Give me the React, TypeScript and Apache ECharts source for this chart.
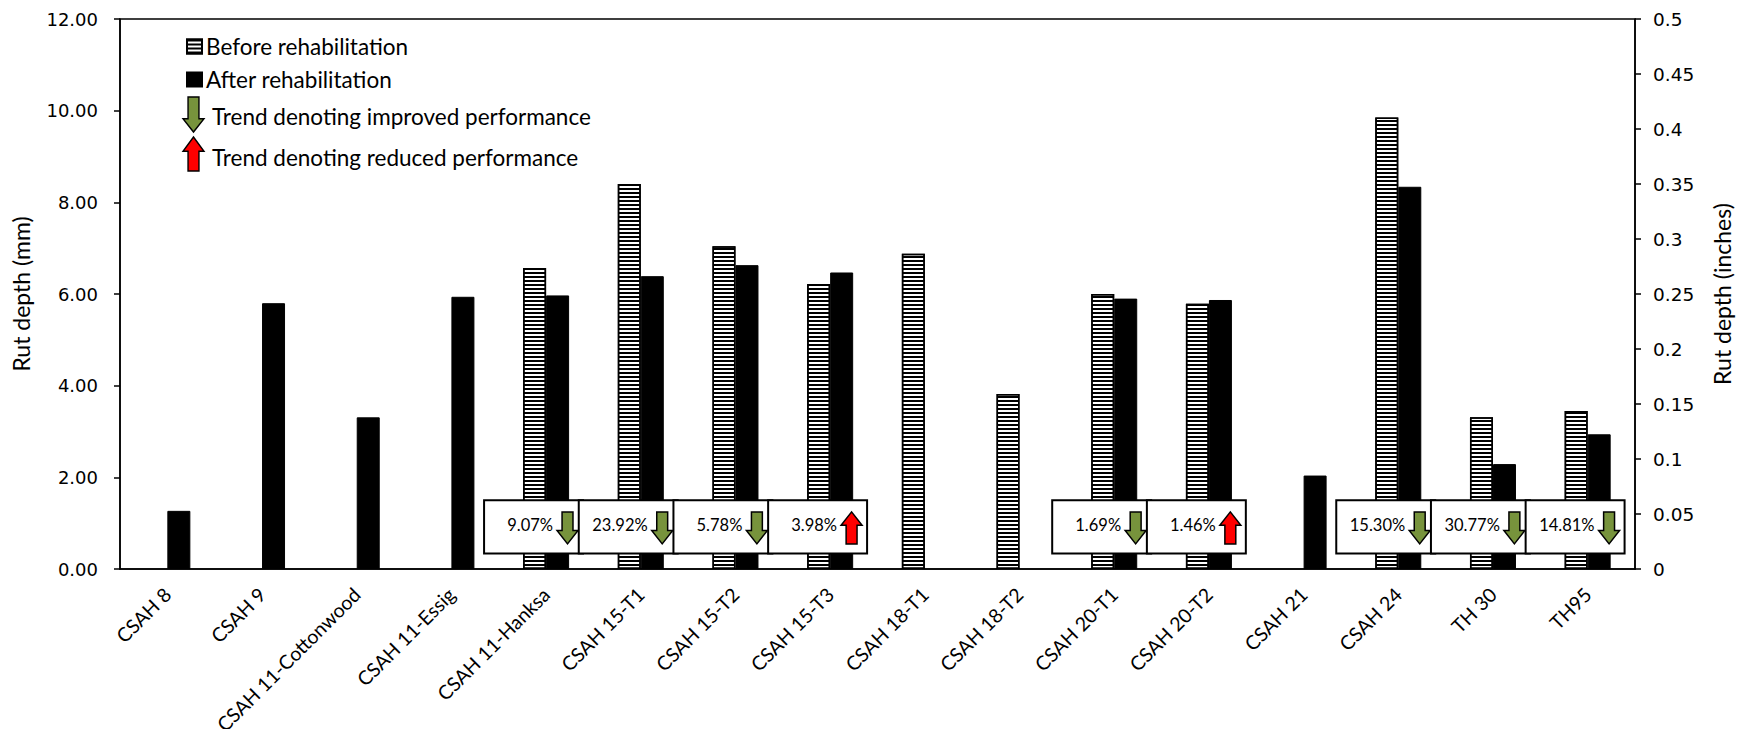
import React, { useEffect, useRef } from "react";
import * as echarts from "echarts";

// Sections along the x axis
const categories = [
  "CSAH 8",
  "CSAH 9",
  "CSAH 11-Cottonwood",
  "CSAH 11-Essig",
  "CSAH 11-Hanksa",
  "CSAH 15-T1",
  "CSAH 15-T2",
  "CSAH 15-T3",
  "CSAH 18-T1",
  "CSAH 18-T2",
  "CSAH 20-T1",
  "CSAH 20-T2",
  "CSAH 21",
  "CSAH 24",
  "TH 30",
  "TH95",
];

// Rut depth (mm) before and after rehabilitation; null = not measured
const beforeRut = [null, null, null, null, 6.57, 8.4, 7.04, 6.22, 6.88, 3.82, 6.0, 5.79, null, 9.85, 3.31, 3.45];
const afterRut = [1.27, 5.8, 3.31, 5.94, 5.97, 6.39, 6.63, 6.47, null, null, 5.9, 5.87, 2.04, 8.34, 2.29, 2.94];

// Change in rut depth for sections measured both times
const changeSections = [
  "CSAH 11-Hanksa",
  "CSAH 15-T1",
  "CSAH 15-T2",
  "CSAH 15-T3",
  "CSAH 20-T1",
  "CSAH 20-T2",
  "CSAH 24",
  "TH 30",
  "TH95",
];
const changePct = [9.07, 23.92, 5.78, 3.98, 1.69, 1.46, 15.3, 30.77, 14.81];
const changeTrend = ["down", "down", "down", "up", "down", "up", "down", "down", "down"];

// Axis ranges
const mmMax = 12;
const mmStep = 2;
const inchMax = 0.5;
const inchStep = 0.05;

const GREEN = "#77933C";
const RED = "#FF0000";
const TEXT_FONT = "Lato, 'Open Sans', sans-serif";
const TICK_FONT = "'DejaVu Sans', Verdana, sans-serif";

// Block arrow outline inside box (x, y, w, h)
function arrowPoints(x: number, y: number, w: number, h: number, up: boolean, headFrac: number) {
  const cx = x + w / 2;
  const s = w * 0.26;
  if (!up) {
    const hy = y + h * headFrac;
    return [
      [cx - s, y],
      [cx + s, y],
      [cx + s, hy],
      [x + w, hy],
      [cx, y + h],
      [x, hy],
      [cx - s, hy],
    ];
  }
  const hy = y + h * (1 - headFrac);
  return [
    [cx, y],
    [x + w, hy],
    [cx + s, hy],
    [cx + s, y + h],
    [cx - s, y + h],
    [cx - s, hy],
    [x, hy],
  ];
}

export default function App() {
  const ref = useRef<HTMLDivElement>(null);

  useEffect(() => {
    if (!ref.current) return;
    const chart = echarts.init(ref.current, undefined, { renderer: "svg" });

    const changeData = changeSections.map((c, i) => [
      categories.indexOf(c),
      0,
      changePct[i],
      changeTrend[i] === "up" ? 1 : 0,
    ]);

    const option: any = {
      animation: false,
      backgroundColor: "#fff",
      grid: {
        left: 120,
        right: 121,
        top: 19,
        bottom: 165,
        show: true,
        borderColor: "#000",
        borderWidth: 1.5,
        backgroundColor: "transparent",
      },
      legend: {
        orient: "vertical",
        left: 186,
        top: 35,
        padding: 0,
        itemWidth: 15,
        itemHeight: 14,
        itemGap: 10,
        icon: "rect",
        data: ["Before rehabilitation", "After rehabilitation"],
        textStyle: {
          fontFamily: TEXT_FONT,
          fontSize: 22.5,
          lineHeight: 22,
          color: "#000",
          padding: [0, 0, 0, -1],
        },
      },
      xAxis: {
        type: "category",
        data: categories,
        axisTick: { show: false },
        axisLine: { lineStyle: { color: "#000", width: 1.5 } },
        axisLabel: {
          interval: 0,
          rotate: 45,
          margin: 22,
          color: "#000",
          fontFamily: TEXT_FONT,
          fontSize: 19.5,
        },
      },
      yAxis: [
        {
          type: "value",
          min: 0,
          max: mmMax,
          interval: mmStep,
          name: "Rut depth (mm)",
          nameLocation: "middle",
          nameRotate: 90,
          nameGap: 88,
          nameTextStyle: { fontFamily: TEXT_FONT, fontSize: 23, color: "#000" },
          axisLine: { show: true, lineStyle: { color: "#000", width: 1.5 } },
          axisTick: { show: true, length: 6, lineStyle: { color: "#000", width: 1.5 } },
          splitLine: { show: false },
          axisLabel: {
            margin: 22,
            color: "#000",
            fontFamily: TICK_FONT,
            fontSize: 18,
            formatter: (v: number) => v.toFixed(2),
          },
        },
        {
          type: "value",
          position: "right",
          min: 0,
          max: inchMax,
          interval: inchStep,
          name: "Rut depth (inches)",
          nameLocation: "middle",
          nameRotate: 90,
          nameGap: 75,
          nameTextStyle: { fontFamily: TEXT_FONT, fontSize: 23, color: "#000" },
          axisLine: { show: true, lineStyle: { color: "#000", width: 1.5 } },
          axisTick: { show: true, length: 6, lineStyle: { color: "#000", width: 1.5 } },
          splitLine: { show: false },
          axisLabel: {
            margin: 18,
            color: "#000",
            fontFamily: TICK_FONT,
            fontSize: 18.5,
            formatter: (v: number) => String(Math.round(v * 100) / 100),
          },
        },
      ],
      series: [
        {
          name: "Before rehabilitation",
          type: "bar",
          data: beforeRut,
          barWidth: 23,
          barGap: "0%",
          itemStyle: {
            color: "#fff",
            borderColor: "#000",
            borderWidth: 1.5,
            decal: {
              symbol: "rect",
              symbolSize: 1,
              dashArrayX: [1, 0],
              dashArrayY: [2, 1.7],
              color: "#000",
              rotation: 0,
            },
          },
        },
        {
          name: "After rehabilitation",
          type: "bar",
          data: afterRut,
          barWidth: 23,
          barGap: "0%",
          itemStyle: { color: "#000", borderColor: "#000", borderWidth: 1 },
        },
        {
          name: "change",
          type: "custom",
          z: 10,
          encode: { x: 0, y: 1 },
          data: changeData,
          renderItem: (_params: any, api: any) => {
            const cat = api.value(0);
            const pct = api.value(2);
            const up = api.value(3) === 1;
            const cx = api.coord([cat, 0])[0];
            const band = api.size([1, 0])[0];
            const left = cx - band * 0.655;
            const right = cx + band * 0.39;
            const top = api.coord([cat, 1.5])[1];
            const bottom = api.coord([cat, 0.34])[1];
            const midY = (top + bottom) / 2;
            const aw = 21;
            const ah = 32;
            const ax = right - aw - 5;
            const ay = midY - ah / 2 + 1;
            return {
              type: "group",
              children: [
                {
                  type: "rect",
                  shape: { x: left, y: top, width: right - left, height: bottom - top },
                  style: { fill: "#fff", stroke: "#000", lineWidth: 2 },
                },
                {
                  type: "text",
                  style: {
                    text: pct.toFixed(2) + "%",
                    x: ax - 4,
                    y: midY - 2,
                    textAlign: "right",
                    align: "right",
                    textVerticalAlign: "middle",
                    verticalAlign: "middle",
                    fontFamily: TEXT_FONT,
                    fontSize: 16.5,
                    fill: "#000",
                  },
                },
                {
                  type: "polygon",
                  shape: { points: arrowPoints(ax, ay, aw, ah, up, 0.58) },
                  style: { fill: up ? RED : GREEN, stroke: "#000", lineWidth: 1.5 },
                },
              ],
            };
          },
        },
      ],
      graphic: [
        {
          type: "polygon",
          shape: { points: arrowPoints(183, 97, 21, 35, false, 0.62) },
          style: { fill: GREEN, stroke: "#000", lineWidth: 1.4 },
        },
        {
          type: "text",
          style: {
            text: "Trend denoting improved performance",
            x: 212,
            y: 116,
            textVerticalAlign: "middle",
            verticalAlign: "middle",
            fontFamily: TEXT_FONT,
            fontSize: 22.5,
            fill: "#000",
          },
        },
        {
          type: "polygon",
          shape: { points: arrowPoints(183, 137, 21, 34, true, 0.58) },
          style: { fill: RED, stroke: "#000", lineWidth: 1.4 },
        },
        {
          type: "text",
          style: {
            text: "Trend denoting reduced performance",
            x: 212,
            y: 157,
            textVerticalAlign: "middle",
            verticalAlign: "middle",
            fontFamily: TEXT_FONT,
            fontSize: 22.5,
            fill: "#000",
          },
        },
      ],
    };

    chart.setOption(option);
    return () => chart.dispose();
  }, []);

  return <div ref={ref} style={{ width: 1756, height: 737, margin: -8 }} />;
}
